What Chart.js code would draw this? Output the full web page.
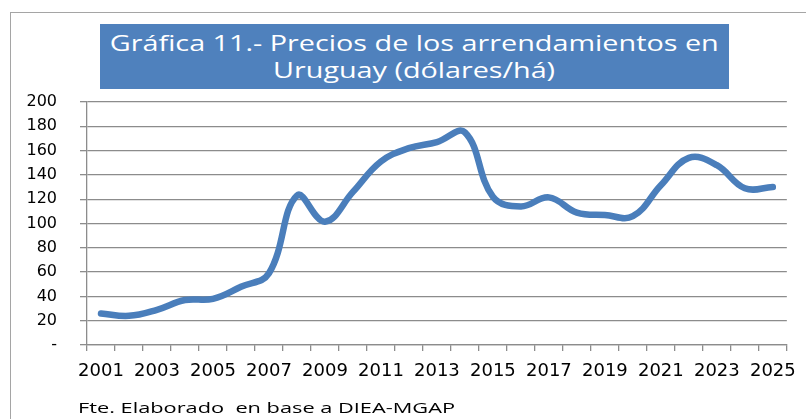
<!DOCTYPE html>
<html><head><meta charset="utf-8">
<script src="https://cdn.jsdelivr.net/npm/chart.js@4"></script>
<style>
html,body{margin:0;padding:0;background:#fff;width:806px;height:419px;overflow:hidden;position:relative;}
#frame{position:absolute;left:10px;top:12px;width:900px;height:500px;border:1.5px solid #a5a5a5;box-sizing:border-box;}
#titlebox{position:absolute;left:100px;top:24px;width:629px;height:65px;background:#4f81bd;}
.tl{position:absolute;left:0;width:629px;text-align:center;color:#fff;font-family:"Open Sans";font-size:21px;line-height:21px;white-space:pre;}
.tl span{display:inline-block;transform-origin:center center;}
#foot{position:absolute;left:78px;top:400px;font-family:"Open Sans";font-size:15px;line-height:15px;white-space:pre;color:#000;}
#foot span{display:inline-block;transform-origin:left center;}
#wrap{position:absolute;left:0;top:0;width:806px;height:419px;}
</style></head>
<body>
<div id="frame"></div>
<div id="titlebox">
  <div class="tl" id="t1" style="top:8.5px"><span>Gráfica 11.- Precios de los arrendamientos en</span></div>
  <div class="tl" id="t2" style="top:36px"><span>Uruguay (dólares/há)</span></div>
</div>
<div id="wrap"><canvas id="c" width="806" height="419"></canvas></div>
<div id="foot"><span>Fte. Elaborado  en base a DIEA-MGAP</span></div>
<script>
const years = ['2001','2002','2003','2004','2005','2006','2007','2008','2009','2010','2011','2012','2013','2014','2015','2016','2017','2018','2019','2020','2021','2022','2023','2024','2025'];
const prices = [26,24,29,37,38,48,59,123,101.5,126,151,162,167,175,122,114,121.5,109,107,106,131.5,154,148,129,130];
const yTicks = [0,20,40,60,80,100,120,140,160,180,200];

// stretch title/footnote text to the reference widths
function fit(el, w){ const r = el.getBoundingClientRect().width; el.style.transform = 'scaleX(' + (w / r) + ')'; }
fit(document.querySelector('#t1 span'), 609);
fit(document.querySelector('#t2 span'), 282);
fit(document.querySelector('#foot span'), 377);

const gridColor = '#8c8c8c';
new Chart(document.getElementById('c'), {
  type: 'line',
  data: {
    labels: years,
    datasets: [{
      data: prices,
      borderColor: '#4a7ebb',
      borderWidth: 6.5,
      pointRadius: 0,
      tension: 0.4,
      fill: false,
      borderCapStyle: 'round',
      borderJoinStyle: 'round'
    }]
  },
  options: {
    responsive: false,
    animation: false,
    layout: { padding: { left: 0, top: 102, right: 13, bottom: 0 } },
    plugins: { legend: { display: false }, tooltip: { enabled: false }, title: { display: false } },
    scales: {
      x: {
        type: 'category',
        offset: true,
        grid: { offset: true, drawOnChartArea: false, tickLength: 6, color: gridColor, lineWidth: 1.3 },
        border: { display: true, color: gridColor, width: 1.3 },
        ticks: {
          autoSkip: false, maxRotation: 0, minRotation: 0, padding: 10,
          color: '#000', font: { family: 'DejaVu Sans', size: 18 },
          callback: (v, i) => (i % 2 === 0 ? years[i] : '')
        },
        afterFit: s => { s.height = 74; }
      },
      y: {
        min: 0, max: 200,
        afterBuildTicks: s => { s.ticks = yTicks.map(v => ({ value: v })); },
        grid: { color: gridColor, lineWidth: 1.3, tickLength: 7 },
        border: { display: true, color: gridColor, width: 1.3 },
        ticks: {
          padding: 23, color: '#000', font: { family: 'DejaVu Sans', size: 16 },
          callback: v => (v === 0 ? '-' : String(v))
        },
        afterFit: s => { s.width = 87; }
      }
    }
  }
});
</script>
</body></html>
